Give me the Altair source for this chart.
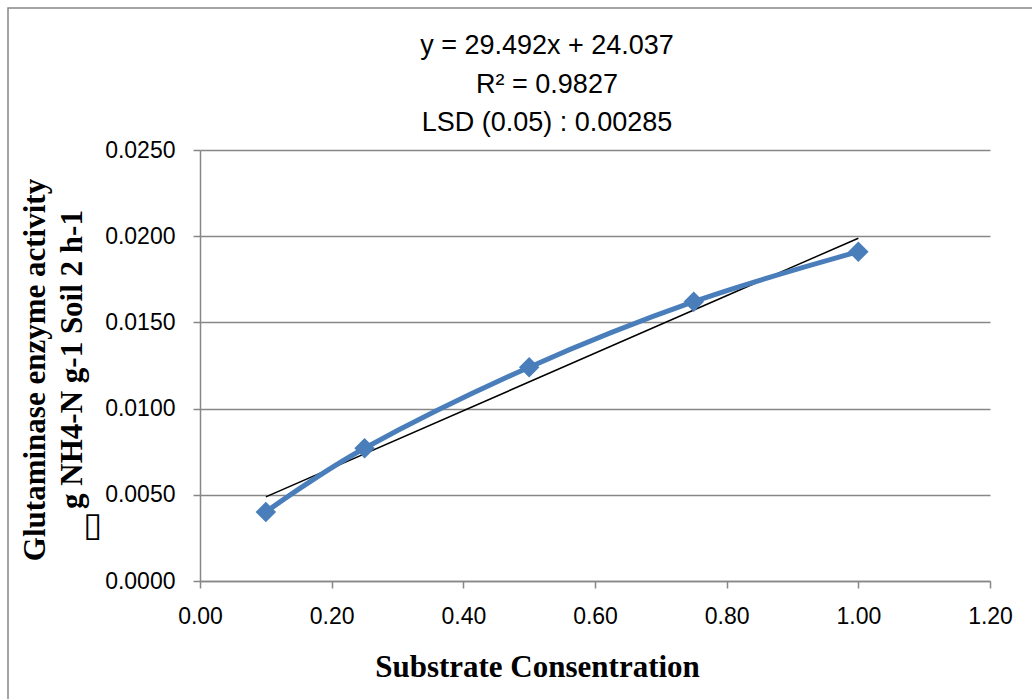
import altair as alt
import pandas as pd

# Data
conc = [0.10, 0.25, 0.50, 0.75, 1.00]
activity = [0.0040, 0.0077, 0.0124, 0.0162, 0.0191]
x_ticks = [0.0, 0.2, 0.4, 0.6, 0.8, 1.0, 1.2]
y_ticks = [0.0, 0.005, 0.010, 0.015, 0.020, 0.025]
eq_lines = ["y = 29.492x + 24.037", "R\u00b2 = 0.9827", "LSD (0.05) : 0.00285"]
x_title = "Substrate Consentration"
y_title_1 = "Glutaminase enzyme activity"
y_title_2 = "g NH4-N g-1 Soil 2 h-1"

df = pd.DataFrame({"conc": conc, "act": activity})

BLUE = "#4a7ebb"
GRID = "#878787"
SANS = "Liberation Sans"
SERIF = "Liberation Serif"

x_enc = alt.X(
    "conc:Q",
    scale=alt.Scale(domain=[0, 1.2], nice=False, zero=False),
    axis=alt.Axis(
        values=x_ticks, format=".2f", grid=False,
        domainColor=GRID, domainWidth=1.5, tickColor=GRID, tickWidth=1.5, tickSize=7,
        labelFont=SANS, labelFontSize=23, labelColor="black", labelPadding=17,
        labelFlush=False, labelOverlap=False,
        title=x_title, titleFont=SERIF, titleFontSize=31, titleFontWeight="bold",
        titleColor="black", titleX=337, titleY=95, titleBaseline="alphabetic",
        titleAlign="center",
    ),
)
y_enc = alt.Y(
    "act:Q",
    scale=alt.Scale(domain=[0, 0.025], nice=False),
    axis=alt.Axis(
        values=y_ticks, format=".4f", grid=True, gridColor=GRID, gridWidth=1.5,
        domainColor=GRID, domainWidth=1.5, tickColor=GRID, tickWidth=1.5, tickSize=7,
        labelFont=SANS, labelFontSize=23, labelColor="black", labelPadding=18,
        labelFlush=False, labelOverlap=False,
        title=None,
    ),
)

base = alt.Chart(df)
one = pd.DataFrame({"a": [0]})

frame = alt.Chart(one).mark_rect(
    filled=False, stroke=GRID, strokeWidth=1.5
).encode(x=alt.value(-192), y=alt.value(-142), x2=alt.value(842), y2=alt.value(559))

trend = base.transform_regression(
    "conc", "act", extent=[0.1, 1.0]
).mark_line(color="black", strokeWidth=1.5).encode(x=x_enc, y=y_enc)

curve = base.mark_line(
    interpolate="cardinal", tension=0, color=BLUE, strokeWidth=5
).encode(x=x_enc, y=y_enc)

pts = base.mark_point(
    shape="diamond", filled=True, size=420, color=BLUE, opacity=1
).encode(x=x_enc, y=y_enc)

eq = alt.Chart(one).mark_text(
    text=eq_lines, font=SANS, fontSize=27, color="black", align="center",
    baseline="alphabetic", lineHeight=38.5
).encode(x=alt.value(347), y=alt.value(-96))

ytitle1 = alt.Chart(one).mark_text(
    text=y_title_1, font=SERIF, fontSize=31, fontWeight="bold", color="black",
    align="center", baseline="alphabetic", angle=270
).encode(x=alt.value(-155), y=alt.value(220))

ytitle2 = alt.Chart(one).mark_text(
    text=y_title_2, font=SERIF, fontSize=31, fontWeight="bold", color="black",
    align="center", baseline="alphabetic", angle=270
).encode(x=alt.value(-118), y=alt.value(209.5))

box = alt.Chart(one).mark_text(
    text="\u25af", font="DejaVu Sans", fontSize=34, color="black", align="center",
    baseline="middle"
).encode(x=alt.value(-107.5), y=alt.value(376))

chart = alt.layer(frame, trend, curve, pts, eq, ytitle1, ytitle2, box).properties(
    width=790, height=431,
    autosize=alt.AutoSizeParams(type="none"),
    padding={"left": 200, "top": 150, "right": 42, "bottom": 118},
    background="white",
).configure_view(stroke=None)

chart.save("out.html", embed_options={"renderer": "svg", "actions": False})
